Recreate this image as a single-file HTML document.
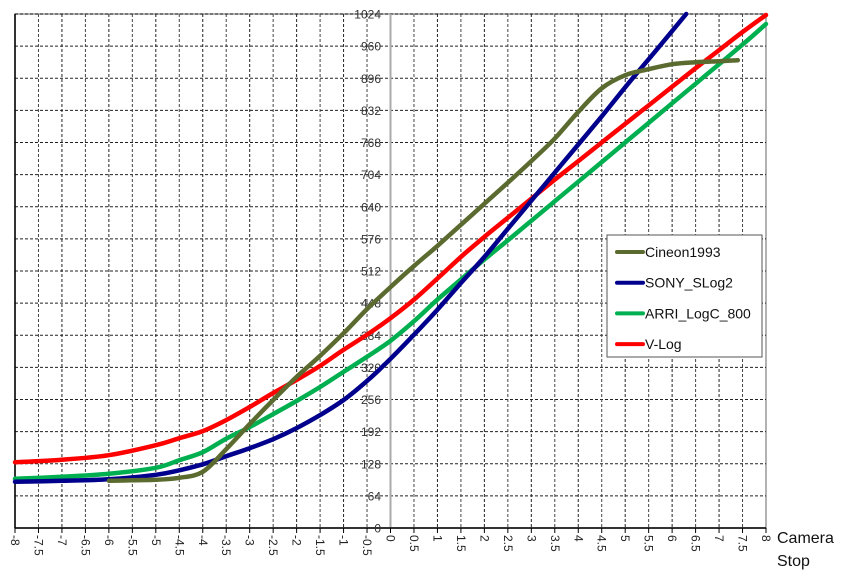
<!DOCTYPE html>
<html><head><meta charset="utf-8">
<style>
html,body{margin:0;padding:0;background:#fff;}
svg{display:block;font-family:"Liberation Sans",sans-serif;}
</style></head>
<body>
<svg id="chart" width="862" height="580" viewBox="0 0 862 580">
  <g id="grid"></g>
  <g id="axes"></g>
  <g id="series"></g>
  <g id="legend"></g>
</svg>
<script>
const stops = [-8,-7.5,-7,-6.5,-6,-5.5,-5,-4.5,-4,-3.5,-3,-2.5,-2,-1.5,-1,-0.5,0,0.5,1,1.5,2,2.5,3,3.5,4,4.5,5,5.5,6,6.5,7,7.5,8];
const yTicks = [0,64,128,192,256,320,384,448,512,576,640,704,768,832,896,960,1024];
const xTickLabels = ["-8","-7.5","-7","-6.5","-6","-5.5","-5","-4.5","-4","-3.5","-3","-2.5","-2","-1.5","-1","-0.5","0","0.5","1","1.5","2","2.5","3","3.5","4","4.5","5","5.5","6","6.5","7","7.5","8"];
const seriesNames = ["Cineon1993","SONY_SLog2","ARRI_LogC_800","V-Log"];
const cineonX = [-6,-5.5,-5,-4.5,-4,-3.5,-3,-2.5,-2,-1.5,-1,-0.5,0,0.5,1,1.5,2,2.5,3,3.5,4,4.5,5,5.5,6,6.5,7,7.4];
const cineonY = [94,95,96,100,112,157,207,255,301,343,388,436,480,522,562,604,646,688,731,776,829,876,902,914,924,928,930,932];
const slog2X = [-8,-7,-6,-5,-4.5,-4,-3.5,-3,-2.5,-2,-1.5,-1,-0.5,0,0.5,1,1.5,2,2.5,3,3.5,4,4.5,5,5.5,6,6.3];
const slog2Y = [92,94,97,106,115,127,143,159,177,199,225,255,293,337,385,435,488,540,596,652,708,764,820,878,934,990,1024];
const arriX = [-8,-7,-6,-5,-4.5,-4,-3.5,-3,-2.5,-2,-1.5,-1,-0.5,0,0.5,1,1.5,2,2.5,3,3.5,4,4.5,5,5.5,6,6.5,7,7.5,8];
const arriY = [98,102,108,120,135,151,178,201,227,253,281,311,341,373,412,455,495,535,573,612,651,690,729,768,807,846,885,924,963,1004];
const vlogX = [-8,-7,-6,-5,-4.5,-4,-3.5,-3,-2.5,-2,-1.5,-1,-0.5,0,0.5,1,1.5,2,2.5,3,3.5,4,4.5,5,5.5,6,6.5,7,7.5,8];
const vlogY = [131,136,145,165,179,193,215,241,269,295,323,355,385,418,455,497,540,580,618,656,694,731,768,805,842,879,916,952,988,1022];

const L=15,R=766,T=14,B=528;
const sx = v => L + (v+8)/16*(R-L);
const sy = v => B - v/1024*(B-T);
const NS="http://www.w3.org/2000/svg";
function mk(tag, attrs, parent){const e=document.createElementNS(NS,tag);for(const k in attrs)e.setAttribute(k,attrs[k]);parent.appendChild(e);return e;}
const grid=document.getElementById('grid'), axes=document.getElementById('axes'), ser=document.getElementById('series'), leg=document.getElementById('legend');

mk('rect',{x:L,y:T,width:R-L,height:B-T,fill:'#fff',stroke:'#999','stroke-width':1.5},grid);
yTicks.forEach(v=>{
  if(v===0) return;
  const ln=mk('line',{x1:L,x2:R,y1:sy(v),y2:sy(v),stroke:'#222','stroke-width':1,'stroke-dasharray':'3,2'},grid);
  
  
});
stops.forEach((s,i)=>{
  if(i===0||i===stops.length-1) return;
  const ln=mk('line',{x1:sx(s),x2:sx(s),y1:T,y2:B,stroke:(i%2? '#444':'#222'),'stroke-width':1,'stroke-dasharray':'3,2'},grid);
  
  
});
const za=mk('line',{x1:sx(0),x2:sx(0),y1:T,y2:B,stroke:'#aaa','stroke-width':2},axes);


const xa=mk('line',{x1:L,x2:R,y1:B,y2:B,stroke:'#000','stroke-width':1.5},axes);


const la=mk('line',{x1:L,x2:L,y1:T,y2:B,stroke:'#000','stroke-width':1.5},axes);



yTicks.forEach(v=>{
  const t=mk('text',{x:381,y:sy(v)+4.5,'text-anchor':'end','font-size':12,fill:'#333'},axes);
  t.textContent=String(v);
  
  
});
stops.forEach((s,i)=>{
  const x=sx(s);
  const tk=mk('line',{x1:x,x2:x,y1:B,y2:B+5,stroke:'#000','stroke-width':1},axes);
  
  
  const t=mk('text',{x:0,y:0,'font-size':12,fill:'#222',transform:`translate(${x-4},${B+7}) rotate(90)`},axes);
  t.textContent=xTickLabels[i];
  
  
});
const t1=mk('text',{x:777,y:543,'font-size':16,fill:'#111'},axes);
t1.textContent='Camera';


const t2=mk('text',{x:777,y:566,'font-size':16,fill:'#111'},axes);
t2.textContent='Stop';



function smoothPath(pts){
  let d='M'+pts[0][0].toFixed(1)+','+pts[0][1].toFixed(1);
  for(let i=0;i<pts.length-1;i++){
    const p0=pts[i-1]||pts[i], p1=pts[i], p2=pts[i+1], p3=pts[i+2]||pts[i+1];
    const c1=[p1[0]+(p2[0]-p0[0])/6, p1[1]+(p2[1]-p0[1])/6];
    const c2=[p2[0]-(p3[0]-p1[0])/6, p2[1]-(p3[1]-p1[1])/6];
    d+=` C${c1[0].toFixed(1)},${c1[1].toFixed(1)} ${c2[0].toFixed(1)},${c2[1].toFixed(1)} ${p2[0].toFixed(1)},${p2[1].toFixed(1)}`;
  }
  return d;
}

const colors=['#5b6b2f','#00008c','#00b050','#ff0000'];
const xs=[cineonX,slog2X,arriX,vlogX], ys=[cineonY,slog2Y,arriY,vlogY];
const order=[2,3,1,0];
order.forEach(k=>{
  const pts=xs[k].map((x,i)=>[sx(x),sy(ys[k][i])]);
  const p=mk('path',{d:smoothPath(pts),fill:'none',stroke:colors[k],'stroke-width':4.5,'stroke-linejoin':'round','stroke-linecap':'round'},ser);
  
  
});

const box=mk('rect',{x:607,y:235,width:155,height:122,fill:'#fff',stroke:'#555','stroke-width':1},leg);


seriesNames.forEach((n,i)=>{
  const y=252+i*30.7;
  const g=mk('g',{},leg);
  
  
  mk('line',{x1:617,x2:643,y1:y,y2:y,stroke:colors[i],'stroke-width':4,'stroke-linecap':'round'},g);
  const t=mk('text',{x:645,y:y+5,'font-size':14,fill:'#111'},g);
  t.textContent=n;
});
</script>
</body></html>
